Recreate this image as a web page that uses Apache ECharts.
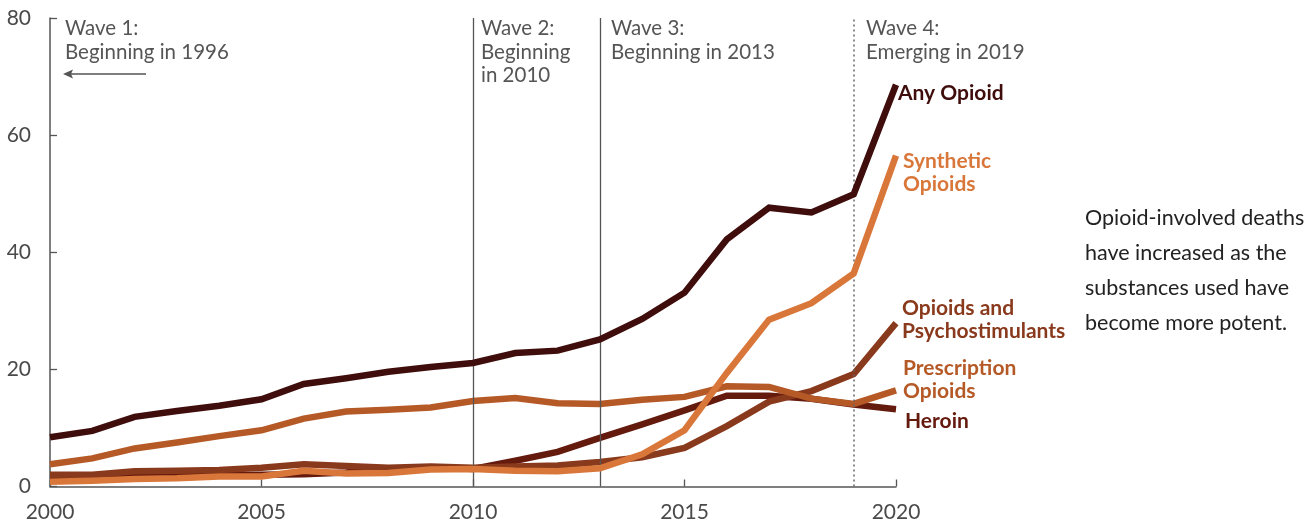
<!DOCTYPE html>
<html>
<head>
<meta charset="utf-8">
<script src="https://cdn.jsdelivr.net/npm/echarts@6/dist/echarts.min.js"></script>
<style>
html,body{margin:0;padding:0;background:#fff;}
#chart{width:1315px;height:529px;}
</style>
</head>
<body>
<div id="chart"></div>
<script>
const years = [2000,2001,2002,2003,2004,2005,2006,2007,2008,2009,2010,2011,2012,2013,2014,2015,2016,2017,2018,2019,2020];
const anyOpioid = [8.4,9.5,11.9,12.9,13.8,14.9,17.5,18.5,19.6,20.4,21.1,22.8,23.2,25.1,28.6,33.1,42.2,47.6,46.8,49.9,68.6];
const syntheticOpioids = [0.8,1.0,1.3,1.4,1.7,1.7,2.7,2.2,2.3,2.9,3.0,2.7,2.6,3.1,5.5,9.6,19.4,28.5,31.3,36.4,56.5];
const psychostimulants = [2.0,2.0,2.6,2.7,2.8,3.2,3.8,3.5,3.2,3.4,3.2,3.4,3.6,4.2,5.0,6.6,10.3,14.5,16.3,19.2,27.9];
const prescriptionOpioids = [3.8,4.8,6.5,7.5,8.6,9.6,11.6,12.8,13.1,13.5,14.6,15.1,14.2,14.1,14.8,15.3,17.1,17.0,15.0,14.1,16.4];
const heroin = [1.8,1.8,2.1,2.1,1.9,2.0,2.1,2.4,3.0,3.3,3.0,4.4,5.9,8.3,10.6,13.0,15.5,15.5,15.0,14.0,13.2];
const yTicks = [0,20,40,60,80];
const xTicks = [2000,2005,2010,2015,2020];
const waveYears = [2010,2013,2019];

const FONT = 'Lato, "Open Sans", sans-serif';
const C = {
  any:'#3f0e0c', syn:'#d9773a', pre:'#b55a27', psy:'#8a3a1c', her:'#651a0e',
  grid:'#555555', text:'#4a4a4a'
};
function pairs(arr){ return years.map((y,i)=>[y,arr[i]]); }
function lineSeries(name, arr, color, z){
  return {name, type:'line', data:pairs(arr), symbol:'none', z,
    lineStyle:{color, width:6.5, join:'miter', cap:'butt'}, silent:true, animation:false};
}
const chart = echarts.init(document.getElementById('chart'), null, {renderer:'canvas'});
const series = [
  lineSeries('Heroin', heroin, C.her, 2),
  lineSeries('Opioids and Psychostimulants', psychostimulants, C.psy, 3),
  lineSeries('Prescription Opioids', prescriptionOpioids, C.pre, 4),
  lineSeries('Synthetic Opioids', syntheticOpioids, C.syn, 5),
  lineSeries('Any Opioid', anyOpioid, C.any, 6)
];
series.push({
  type:'line', data:[], z:1, silent:true, animation:false,
  markLine:{
    symbol:'none', silent:true, animation:false,
    label:{show:false},
    data:[
      {xAxis:waveYears[0], lineStyle:{color:'#555', width:1.3, type:'solid'}},
      {xAxis:waveYears[1], lineStyle:{color:'#555', width:1.3, type:'solid'}},
      {xAxis:waveYears[2], lineStyle:{color:'#666', width:1.5, type:[2,3]}}
    ]
  }
});
const waveStyle = {fontFamily:FONT, fontSize:20.5, fill:'#555', lineHeight:23.3};
const boldStyle = c=>({fontFamily:FONT, fontSize:21, fontWeight:'bold', fill:c, lineHeight:23.5});
const T = (left, top, text, style)=>({type:'text', left, top, style:Object.assign({text}, style)});
chart.setOption({
  animation:false,
  grid:{left:50, right:419, top:18, bottom:42.5, containLabel:false},
  xAxis:{type:'value', min:2000, max:2020, interval:5,
    axisLine:{show:true, lineStyle:{color:C.grid, width:1.5}},
    axisTick:{show:true, inside:true, length:7, lineStyle:{color:C.grid, width:1.3}},
    axisLabel:{color:C.text, fontFamily:FONT, fontSize:21, margin:15, formatter:v=>String(v)},
    splitLine:{show:false}},
  yAxis:{type:'value', min:0, max:80, interval:20,
    axisLine:{show:true, lineStyle:{color:C.grid, width:1.5}},
    axisTick:{show:true, inside:true, length:7, lineStyle:{color:C.grid, width:1.3}},
    axisLabel:{color:C.text, fontFamily:FONT, fontSize:21, margin:19},
    splitLine:{show:false}},
  series,
  graphic:[
    T(65, 17, 'Wave 1:\nBeginning in 1996', waveStyle),
    {type:'line', shape:{x1:70, y1:74, x2:146, y2:74}, style:{stroke:'#555', lineWidth:1.5}},
    {type:'polygon', shape:{points:[[63,74],[73,69.5],[71,74],[73,78.5]]}, style:{fill:'#555'}},
    T(481, 17, 'Wave 2:\nBeginning\nin 2010', waveStyle),
    T(611, 17, 'Wave 3:\nBeginning in 2013', waveStyle),
    T(866, 17, 'Wave 4:\nEmerging in 2019', waveStyle),
    T(898, 81, 'Any Opioid', boldStyle(C.any)),
    T(903, 149, 'Synthetic\nOpioids', boldStyle(C.syn)),
    T(902, 296, 'Opioids and\nPsychostimulants', boldStyle(C.psy)),
    T(903, 356, 'Prescription\nOpioids', boldStyle(C.pre)),
    T(905, 409, 'Heroin', boldStyle(C.her)),
    T(1085, 201, 'Opioid-involved deaths\nhave increased as the\nsubstances used have\nbecome more potent.', {fontFamily:FONT, fontSize:21.5, fill:'#222', lineHeight:35})
  ]
});
</script>
</body>
</html>
